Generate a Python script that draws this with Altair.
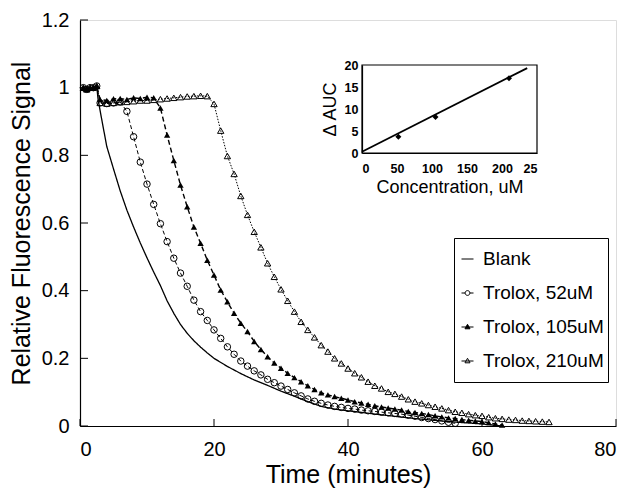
import altair as alt
import pandas as pd

# ---------------- data ----------------
series_names = ["Blank", "Trolox, 52uM", "Trolox, 105uM", "Trolox, 210uM"]

start_t = [0.5, 1, 1.5, 2, 2.5]
start_v = [1.0, 0.995, 1.0, 1.0, 1.005]

blank_t = [2.7, 3.3, 4, 5, 6, 7, 8, 9, 10, 11, 12, 13, 14, 15, 16, 17, 18, 19, 20,
           22, 24, 26, 28, 30, 32, 34, 36, 38, 40, 45, 50, 55, 60, 63]
blank_v = [0.965, 0.90, 0.826, 0.76, 0.695, 0.638, 0.588, 0.541, 0.497, 0.455, 0.415,
           0.37, 0.333, 0.30, 0.274, 0.252, 0.233, 0.216, 0.20,
           0.176, 0.155, 0.136, 0.12, 0.103, 0.088, 0.072, 0.058, 0.05, 0.045,
           0.033, 0.022, 0.013, 0.006, 0.0]

t52 = list(range(3, 57))
v52 = [0.955, 0.953, 0.955, 0.958, 0.93, 0.855, 0.78, 0.715, 0.655, 0.598, 0.545,
       0.496, 0.452, 0.413, 0.372, 0.338, 0.312, 0.284, 0.259, 0.234, 0.212, 0.192,
       0.177, 0.163, 0.151, 0.138, 0.128, 0.118, 0.108, 0.098, 0.089, 0.080, 0.073,
       0.067, 0.062, 0.058, 0.055, 0.052, 0.050, 0.047, 0.045, 0.043, 0.041, 0.039,
       0.037, 0.035, 0.032, 0.029, 0.025, 0.022, 0.019, 0.015, 0.011, 0.008]

t105 = list(range(3, 64))
v105 = [0.965, 0.962, 0.967, 0.968, 0.965, 0.97, 0.968, 0.972, 0.97,
        0.94, 0.86, 0.785, 0.712, 0.648, 0.588, 0.540, 0.490, 0.446, 0.402, 0.367,
        0.333, 0.304, 0.279, 0.250, 0.226, 0.205, 0.186, 0.171, 0.156, 0.143, 0.131,
        0.119, 0.108, 0.098, 0.092, 0.087, 0.082, 0.077, 0.072, 0.068, 0.064, 0.060,
        0.056, 0.053, 0.050, 0.047, 0.043, 0.040, 0.037, 0.034, 0.030, 0.027, 0.024,
        0.022, 0.019, 0.017, 0.015, 0.013, 0.010, 0.006, 0.003]

t210 = list(range(3, 71))
v210 = [0.955, 0.953, 0.955, 0.957, 0.958, 0.96, 0.962, 0.962, 0.964, 0.966, 0.968,
        0.97, 0.972, 0.974, 0.975, 0.976, 0.975,
        0.952, 0.873, 0.798, 0.745, 0.680, 0.624, 0.574, 0.528, 0.481, 0.441, 0.404,
        0.370, 0.338, 0.308, 0.284, 0.262, 0.239, 0.220, 0.200, 0.185, 0.170, 0.156,
        0.144, 0.131, 0.119, 0.111, 0.101, 0.095, 0.087, 0.079, 0.072, 0.067, 0.062,
        0.057, 0.052, 0.047, 0.042, 0.039, 0.035, 0.032, 0.030, 0.026, 0.023, 0.021,
        0.019, 0.018, 0.016, 0.015, 0.014, 0.013, 0.012]

x_ticks = [0, 20, 40, 60, 80]
y_ticks = [0, 0.2, 0.4, 0.6, 0.8, 1.0, 1.2]

# inset
conc = [52, 105, 210]
dauc = [3.7, 8.2, 17.0]
fit_conc = [0, 236]
fit_dauc = [0.3, 19.3]
inset_x_ticks = [0, 50, 100, 150, 200, 250]
inset_y_ticks = [0, 5, 10, 15, 20]

# ---------------- build tables ----------------
rows = []
for name, tt, vv in [(series_names[0], blank_t, blank_v), (series_names[1], t52, v52),
                     (series_names[2], t105, v105), (series_names[3], t210, v210)]:
    for t, v in zip(start_t + tt, start_v + vv):
        rows.append({"x": t, "y": v, "series": name})
df = pd.DataFrame(rows)

FONT = "Liberation Sans"
W, H = 536, 406

xs = alt.Scale(domain=[0, 80], nice=False, zero=False)
ys = alt.Scale(domain=[0, 1.2], nice=False)

xaxis = alt.Axis(title="Time (minutes)", values=x_ticks, ticks=False, tickSize=0,
                 grid=False, labelPadding=13, titlePadding=3, labelFontSize=20,
                 titleFontSize=25, titleFontWeight="normal", labelFont=FONT,
                 titleFont=FONT, domainColor="black", labelColor="black",
                 titleColor="black", domainWidth=1.2)
yaxis = alt.Axis(title="Relative  Fluorescence Signal", values=y_ticks, ticks=False,
                 tickSize=0, grid=False, labelPadding=11, titlePadding=7,
                 labelExpr="format(datum.value, '~g')",
                 labelFontSize=20, titleFontSize=25, titleFontWeight="normal",
                 labelFont=FONT, titleFont=FONT, domainColor="black",
                 labelColor="black", titleColor="black", domainWidth=1.2)

base = alt.Chart(df)


def X():
    return alt.X("x:Q", scale=xs, axis=xaxis)


def Y():
    return alt.Y("y:Q", scale=ys, axis=yaxis)


dashes = {series_names[0]: [1, 0], series_names[1]: [4, 2.5],
          series_names[2]: [5, 3], series_names[3]: [1.5, 1.5]}
widths = {series_names[0]: 1.3, series_names[1]: 1.0,
          series_names[2]: 1.4, series_names[3]: 1.0}

layers = []
for name in series_names:
    layers.append(
        base.transform_filter(alt.datum.series == name)
        .mark_line(color="black", strokeWidth=widths[name], strokeDash=dashes[name])
        .encode(x=X(), y=Y(), order="x:Q")
    )

point_style = {
    series_names[1]: dict(shape="circle", filled=False, size=42),
    series_names[2]: dict(shape="triangle-up", filled=True, size=40),
    series_names[3]: dict(shape="triangle-up", filled=False, size=40),
}
for name, st in point_style.items():
    layers.append(
        base.transform_filter(alt.datum.series == name)
        .mark_point(color="black", strokeWidth=1, opacity=1, **st)
        .encode(x=X(), y=Y())
    )

# legend (symbols = short line + marker)
legend_paths = [
    "M-1,0H1",
    "M-1,0H-0.4M0.4,0H1M0.4,0A0.4,0.4,0,1,1,-0.4,0A0.4,0.4,0,1,1,0.4,0Z",
    "M-1,0H1M0,-0.45L0.42,0.3L-0.42,0.3Z",
    "M-1,0H1M0,-0.45L0.42,0.3L-0.42,0.3Z",
]
legend_fill = ["transparent", "transparent", "black", "transparent"]
legend_stroke = ["black", "black", "black", "black"]
leg = alt.Legend(title=None, orient="none", legendX=374, legendY=218,
                 strokeColor="black", fillColor="white", padding=4,
                 labelFontSize=19, labelFont=FONT, labelColor="black",
                 symbolSize=144, symbolStrokeColor="black", symbolStrokeWidth=1,
                 clipHeight=34, rowPadding=0, labelOffset=6)
layers.append(
    base.transform_filter("false")
    .mark_point(color="black", strokeWidth=1, opacity=1)
    .encode(
        x=X(), y=Y(),
        shape=alt.Shape("series:N", scale=alt.Scale(domain=series_names, range=legend_paths), legend=leg),
        fill=alt.Fill("series:N", scale=alt.Scale(domain=series_names, range=legend_fill), legend=leg),
        stroke=alt.Stroke("series:N", scale=alt.Scale(domain=series_names, range=legend_stroke), legend=leg),
    )
)

# inward tick marks
xt = alt.Chart(pd.DataFrame({"x": x_ticks})).mark_rule(color="black", strokeWidth=1).encode(
    x=alt.X("x:Q", scale=xs, axis=xaxis), y=alt.value(H), y2=alt.value(H - 7))
yt = alt.Chart(pd.DataFrame({"y": y_ticks})).mark_rule(color="black", strokeWidth=1).encode(
    y=alt.Y("y:Q", scale=ys, axis=yaxis), x=alt.value(0), x2=alt.value(8))
layers += [xt, yt]

main = alt.layer(*layers)

# ---------------- inset ----------------
IX0, IX1 = 282, 457
IY0, IY1 = 133, 45
ixs = alt.Scale(domain=[0, 250], range=[IX0, IX1], nice=False, zero=False)
iys = alt.Scale(domain=[0, 20], range=[IY0, IY1], nice=False, zero=False)
ixaxis = alt.Axis(title="Concentration, uM", values=inset_x_ticks, orient="bottom",
                  offset=IY0 - H, ticks=False, tickSize=0, grid=False,
                  labelExpr="datum.value == 250 ? '25' : datum.label",
                  labelPadding=9, titlePadding=4, labelFontSize=12.5, labelFontWeight="bold",
                  titleFontSize=18, titleFontWeight="normal", labelFont=FONT,
                  titleFont=FONT, domainColor="black", labelColor="black",
                  titleColor="black", domainWidth=1.2)
iyaxis = alt.Axis(title="Δ AUC", values=inset_y_ticks, orient="left",
                  offset=-IX0, ticks=False, tickSize=0, grid=False,
                  labelPadding=4, titlePadding=5, labelFontSize=12.5, labelFontWeight="bold",
                  titleFontSize=18, titleFontWeight="normal", labelFont=FONT,
                  titleFont=FONT, domainColor="black", labelColor="black",
                  titleColor="black", domainWidth=1.2)

frame_df = pd.DataFrame({"c0": [inset_x_ticks[0]], "c1": [inset_x_ticks[-1]],
                         "d0": [inset_y_ticks[0]], "d1": [inset_y_ticks[-1]]})
frame = alt.Chart(frame_df).mark_rect(filled=False, stroke="black", strokeWidth=1.2).encode(
    x=alt.X("c0:Q", scale=ixs, axis=ixaxis), x2="c1:Q",
    y=alt.Y("d0:Q", scale=iys, axis=iyaxis), y2="d1:Q")
fit = alt.Chart(pd.DataFrame({"c0": fit_conc, "d0": fit_dauc})).mark_line(
    color="black", strokeWidth=1.8).encode(
    x=alt.X("c0:Q", scale=ixs, axis=ixaxis), y=alt.Y("d0:Q", scale=iys, axis=iyaxis))
pts = alt.Chart(pd.DataFrame({"c0": conc, "d0": dauc})).mark_point(
    shape="diamond", filled=True, color="black", size=36, opacity=1).encode(
    x=alt.X("c0:Q", scale=ixs, axis=ixaxis), y=alt.Y("d0:Q", scale=iys, axis=iyaxis))
inset = alt.layer(frame, fit, pts)

chart = (
    alt.layer(main, inset)
    .resolve_scale(x="independent", y="independent")
    .properties(width=W, height=H,
                autosize=alt.AutoSizeParams(type="none"),
                padding={"left": 72, "top": 12, "right": 4, "bottom": 63})
    .configure_view(stroke="black", strokeWidth=1.2)
    .configure(background="white")
)

chart.save("out.html", embed_options={"renderer": "svg", "actions": False})
